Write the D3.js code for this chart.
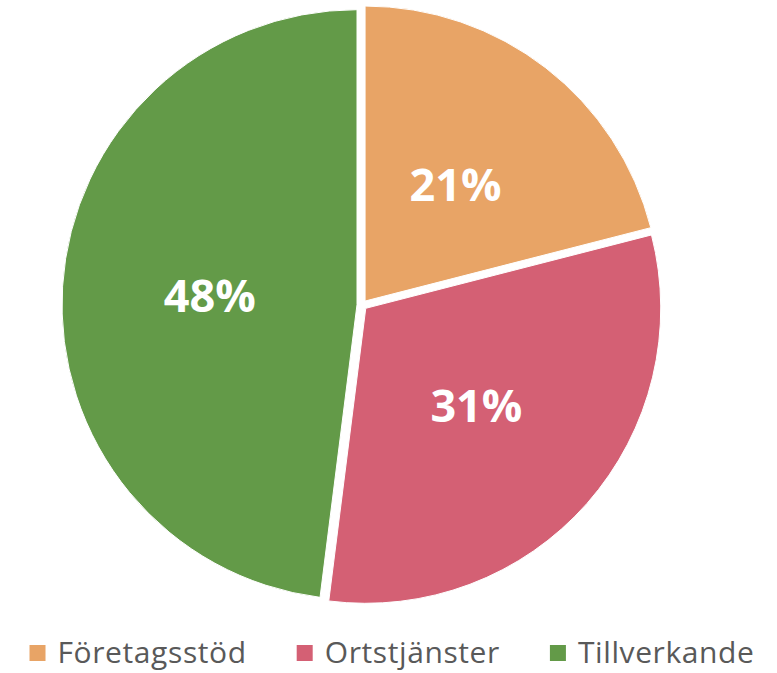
<!DOCTYPE html>
<html>
<head>
<meta charset="utf-8">
<script src="https://cdn.jsdelivr.net/npm/d3@7"></script>
<style>
  body { margin: 0; background: #fff; }
</style>
</head>
<body>
<div id="chart"></div>
<script>
// Data
const categories = ["Företagsstöd", "Ortstjänster", "Tillverkande"];
const shares = [21, 31, 48];
const colors = ["#E8A466", "#D46074", "#639A48"];

const width = 777, height = 673;
const cx = 362, cy = 305, radius = 295;
const explode = 5;

const svg = d3.select("#chart")
    .append("svg")
    .attr("width", width)
    .attr("height", height);

const g = svg.append("g")
    .attr("transform", `translate(${cx},${cy})`);

const pie = d3.pie().sort(null).value(d => d.value);
const arc = d3.arc().innerRadius(0).outerRadius(radius);
const labelArc = d3.arc().innerRadius(radius).outerRadius(0);

const data = categories.map((c, i) => ({ name: c, value: shares[i], color: colors[i] }));
const arcs = pie(data);

// Offset each slice a little along its middle angle
const offset = d => {
    const a = (d.startAngle + d.endAngle) / 2;
    return [Math.sin(a) * explode, -Math.cos(a) * explode];
};

const slices = g.selectAll(".slice")
    .data(arcs)
    .enter()
    .append("g")
    .attr("class", "slice")
    .attr("transform", d => `translate(${offset(d)})`);

slices.append("path")
    .attr("d", arc)
    .attr("fill", d => d.data.color)
    .attr("stroke", "#fff")
    .attr("stroke-width", 1);

slices.append("text")
    .attr("transform", d => `translate(${labelArc.centroid(d)})`)
    .attr("text-anchor", "middle")
    .attr("dy", "0.36em")
    .style("font-family", "'Open Sans', sans-serif")
    .style("font-weight", 700)
    .style("font-size", "45px")
    .attr("fill", "#fff")
    .text(d => d.data.value + "%");

// Legend
const legend = svg.append("g");
let x = 0;
data.forEach(d => {
    const item = legend.append("g").attr("transform", `translate(${x},0)`);
    item.append("rect")
        .attr("x", 0)
        .attr("y", -7)
        .attr("width", 16)
        .attr("height", 16)
        .attr("fill", d.color);
    const t = item.append("text")
        .attr("x", 28)
        .attr("dy", "0.36em")
        .style("font-family", "'Open Sans', sans-serif")
        .style("font-size", "30px")
        .style("letter-spacing", "0.6px")
        .attr("fill", "#595959")
        .text(d.name);
    x += 28 + t.node().getComputedTextLength() + 50;
});
const legendWidth = x - 50;
legend.attr("transform", `translate(${392 - legendWidth / 2},652)`);
</script>
</body>
</html>
